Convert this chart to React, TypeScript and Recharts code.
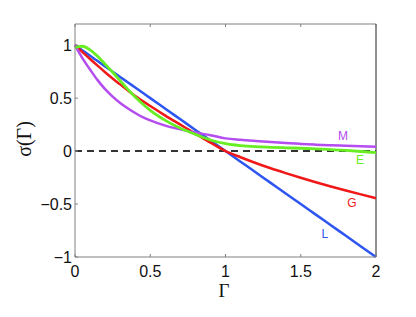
import { LineChart, Line, XAxis, YAxis, ReferenceLine, ReferenceDot } from 'recharts'

// grid of Γ values shared by every curve
const gamma = [0, 0.05, 0.1, 0.15, 0.2, 0.25, 0.3, 0.35, 0.4, 0.45, 0.5, 0.6, 0.7, 0.8, 0.9, 1.0, 1.1, 1.2, 1.3, 1.4, 1.5, 1.6, 1.7, 1.8, 1.9, 2.0]

const lValues = [1, 0.95, 0.9, 0.85, 0.8, 0.75, 0.7, 0.65, 0.6, 0.55, 0.5, 0.4, 0.3, 0.2, 0.1, 0, -0.1, -0.2, -0.3, -0.4, -0.5, -0.6, -0.7, -0.8, -0.9, -1]
const gValues = [1, 0.935, 0.87, 0.807, 0.745, 0.686, 0.63, 0.574, 0.52, 0.472, 0.425, 0.335, 0.25, 0.165, 0.08, 0, -0.058, -0.112, -0.162, -0.208, -0.252, -0.294, -0.334, -0.372, -0.409, -0.445]
const mValues = [1, 0.875, 0.77, 0.67, 0.585, 0.515, 0.455, 0.405, 0.36, 0.32, 0.29, 0.24, 0.205, 0.175, 0.15, 0.12, 0.106, 0.095, 0.085, 0.076, 0.068, 0.061, 0.055, 0.05, 0.045, 0.04]
const eValues = [0.98, 0.99, 0.955, 0.895, 0.82, 0.745, 0.665, 0.585, 0.51, 0.445, 0.385, 0.29, 0.215, 0.158, 0.105, 0.07, 0.052, 0.042, 0.036, 0.031, 0.027, 0.021, 0.014, 0.006, -0.004, -0.015]

const xTicks = [0, 0.5, 1, 1.5, 2]
const yTicks = [-1, -0.5, 0, 0.5, 1]

const curveLabels = [
  { name: 'M', x: 1.78, y: 0.143, color: '#b44cf0' },
  { name: 'E', x: 1.894, y: -0.086, color: '#66ee22' },
  { name: 'G', x: 1.84, y: -0.486, color: '#f01818' },
  { name: 'L', x: 1.66, y: -0.78, color: '#2d55f0' },
]

const data = gamma.map((g, i) => ({ g, L: lValues[i], G: gValues[i], M: mValues[i], E: eValues[i] }))

const W = 416
const H = 317
const PL = 75
const PT = 24
const PR = 376
const PB = 257
const TICK = 3
const fmt = (v: number) => (v < 0 ? '\u2212' + Math.abs(v) : String(v))
const tickFont = '"Liberation Sans", Arial, sans-serif'
const serif = '"Liberation Serif", "Times New Roman", serif'

export default function App() {
  return (
    <div style={{ position: 'fixed', left: 0, top: 0, width: W, height: H, background: '#fff' }}>
      <LineChart width={W} height={H} data={data} margin={{ top: PT - 1, right: W - PR - 1, bottom: 0, left: 15 }}>
        <XAxis
          dataKey="g"
          type="number"
          domain={[0, 2]}
          ticks={xTicks}
          height={H - PB}
          axisLine={{ stroke: '#808080', strokeWidth: 1 }}
          tickLine={false}
          tick={(p: any) => (
            <g>
              <line x1={p.x} x2={p.x} y1={PB} y2={PB - TICK} stroke="#808080" />
              <text x={p.x} y={PB + 14} textAnchor="middle" dominantBaseline="central" fontSize={16} fontFamily={tickFont} fill="#111">
                {fmt(p.payload.value)}
              </text>
            </g>
          )}
          label={{
            content: () => (
              <text x={224} y={290} textAnchor="middle" dominantBaseline="central" fontSize={19} fontFamily={serif} fill="#111">
                Γ
              </text>
            ),
          }}
        />
        <XAxis
          xAxisId="top"
          dataKey="g"
          type="number"
          orientation="top"
          domain={[0, 2]}
          ticks={xTicks}
          height={1}
          axisLine={false}
          tickLine={false}
          tick={(p: any) => <line x1={p.x} x2={p.x} y1={PT} y2={PT + TICK} stroke="#808080" />}
        />
        <YAxis
          type="number"
          domain={[-1, 1.2]}
          ticks={yTicks}
          width={PL - 15}
          axisLine={{ stroke: '#808080', strokeWidth: 1 }}
          tickLine={false}
          tick={(p: any) => (
            <g>
              <line x1={PL} x2={PL + TICK} y1={p.y} y2={p.y} stroke="#808080" />
              <text x={PL - 3} y={p.y} textAnchor="end" dominantBaseline="central" fontSize={16} fontFamily={tickFont} fill="#111">
                {fmt(p.payload.value)}
              </text>
            </g>
          )}
          label={{
            content: () => (
              <text x={24} y={139} transform="rotate(-90 24 139)" textAnchor="middle" dominantBaseline="central" fontSize={20} fontFamily={serif} fill="#111">
                σ(Γ)
              </text>
            ),
          }}
        />
        <YAxis
          yAxisId="right"
          orientation="right"
          type="number"
          domain={[-1, 1.2]}
          ticks={yTicks}
          width={1}
          axisLine={false}
          tickLine={false}
          tick={(p: any) => <line x1={PR} x2={PR - TICK} y1={p.y} y2={p.y} stroke="#808080" />}
        />
        <ReferenceLine y={1.2} stroke="#808080" strokeWidth={1} ifOverflow="visible" />
        <ReferenceLine x={2} stroke="#222" strokeWidth={1} ifOverflow="visible" />
        <ReferenceLine y={0} stroke="#333" strokeWidth={2} strokeDasharray="7 5" />
        <Line dataKey="L" type="monotone" stroke="#2d55f0" strokeWidth={2.5} dot={false} isAnimationActive={false} />
        <Line dataKey="G" type="monotone" stroke="#f01818" strokeWidth={2.5} dot={false} isAnimationActive={false} />
        <Line dataKey="M" type="monotone" stroke="#b44cf0" strokeWidth={2.5} dot={false} isAnimationActive={false} />
        <Line dataKey="E" type="monotone" stroke="#66ee22" strokeWidth={2.8} dot={false} isAnimationActive={false} />
        {curveLabels.map((c) => (
          <ReferenceDot
            key={c.name}
            x={c.x}
            y={c.y}
            r={0}
            fill="none"
            stroke="none"
            ifOverflow="visible"
            label={{ value: c.name, position: 'center', fill: c.color, fontSize: 12, fontFamily: tickFont }}
          />
        ))}
      </LineChart>
    </div>
  )
}
